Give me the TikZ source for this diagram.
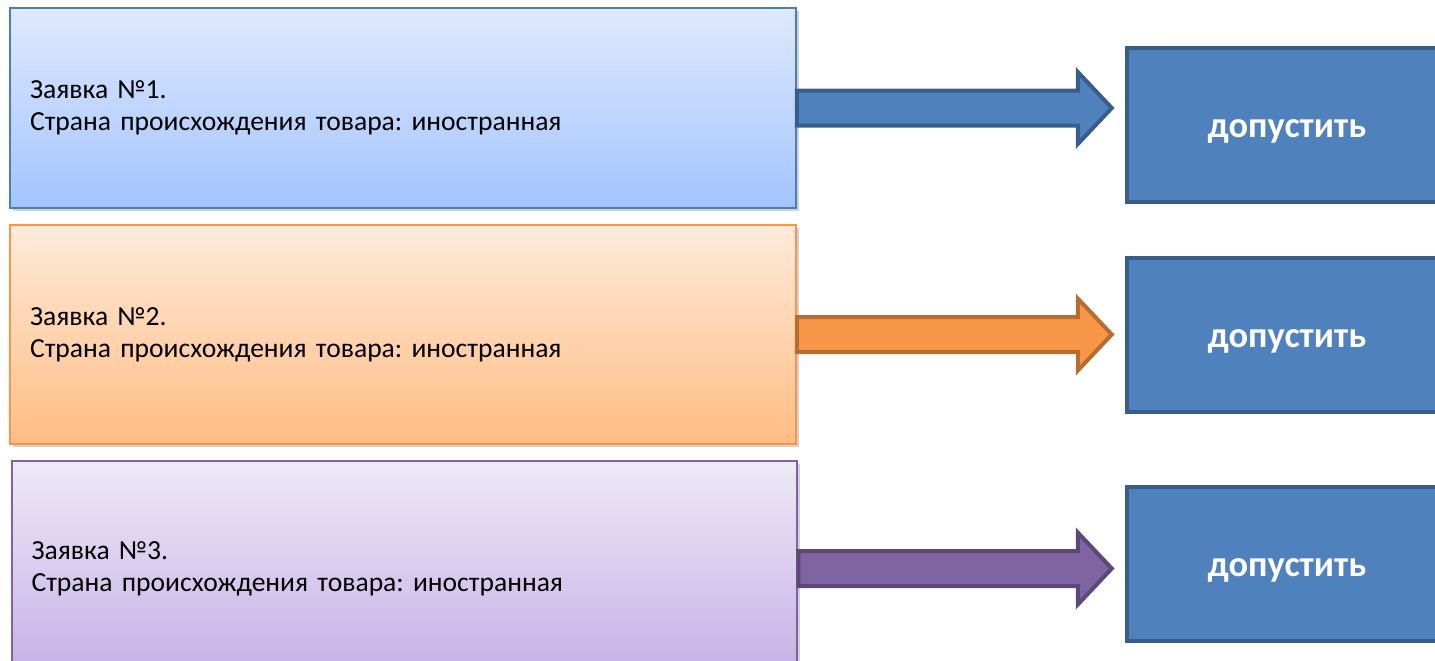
\documentclass[tikz,border=0pt]{standalone}
\usepackage{fontspec}
\setmainfont{Carlito}
\usetikzlibrary{calc,shadows}
\frenchspacing

\definecolor{blueedge}{RGB}{74,126,187}
\definecolor{bluetop}{RGB}{222,233,253}
\definecolor{bluebot}{RGB}{163,196,255}
\definecolor{orangeedge}{RGB}{247,150,70}
\definecolor{orangetop}{RGB}{254,234,218}
\definecolor{orangebot}{RGB}{255,189,132}
\definecolor{purpleedge}{RGB}{128,100,162}
\definecolor{purpletop}{RGB}{239,233,247}
\definecolor{purplebot}{RGB}{196,176,230}
\definecolor{okfill}{RGB}{79,129,189}
\definecolor{okedge}{RGB}{56,93,138}
\definecolor{orangeline}{RGB}{182,109,49}
\definecolor{purplefill}{RGB}{128,100,162}
\definecolor{purpleline}{RGB}{92,71,118}

\tikzset{
  request/.style={draw, line width=0.04cm, minimum width=15.72cm, text width=14.92cm,
    align=left, inner xsep=0.4cm, font=\fontsize{15.7}{18.1}\selectfont,
    drop shadow={shadow xshift=0.06cm, shadow yshift=-0.06cm, opacity=0.3, fill=black!60}},
  verdict/.style={draw=okedge, fill=okfill, line width=0.09cm, minimum width=6.4cm,
    minimum height=3.08cm, text=white, text height=1.7em, text depth=0.25em,
    font=\fontsize{20.7}{24}\selectfont\bfseries},
  flow/.style={line width=0.08cm, line join=miter}
}
% arrow from the east side of one box towards the west side of another
\def\flowarrow[#1](#2)(#3){\draw[flow,#1] ($(#2.east)+(0,-17.5)$) -- ($(#2.east -| #3.west)+(-47,-17.5)$) -- ($(#2.east -| #3.west)+(-47,-36)$) -- ($(#2.east -| #3.west)+(-13,0)$) -- ($(#2.east -| #3.west)+(-47,36)$) -- ($(#2.east -| #3.west)+(-47,17.5)$) -- ($(#2.east)+(0,17.5)$) -- cycle;}

\begin{document}
\begin{tikzpicture}[x=0.02cm, y=-0.02cm]
    \path[use as bounding box, clip] (0,0) rectangle (1435,660);

    %%%%% requests %%%%%
    \node[request, draw=blueedge, top color=bluetop, bottom color=bluebot, minimum height=4cm]
      (req1) at (403,108) {Заявка №1.\\Страна происхождения товара: иностранная};
    \node[request, draw=orangeedge, top color=orangetop, bottom color=orangebot, minimum height=4.38cm]
      (req2) at (403,334.5) {Заявка №2.\\Страна происхождения товара: иностранная};
    \node[request, draw=purpleedge, top color=purpletop, bottom color=purplebot, minimum height=4.3cm, minimum width=15.66cm]
      (req3) at (404.5,568.5) {Заявка №3.\\Страна происхождения товара: иностранная};

    %%%%% verdicts %%%%%
    \node[verdict] (ok1) at (1287,125) {допустить};
    \node[verdict] (ok2) at (1287,335) {допустить};
    \node[verdict] (ok3) at (1287,564) {допустить};

    %%%%% arrows %%%%%
    \flowarrow[draw=okedge, fill=okfill](req1)(ok1)
    \flowarrow[draw=orangeline, fill=orangeedge](req2)(ok2)
    \flowarrow[draw=purpleline, fill=purplefill](req3)(ok3)
\end{tikzpicture}
\end{document}
